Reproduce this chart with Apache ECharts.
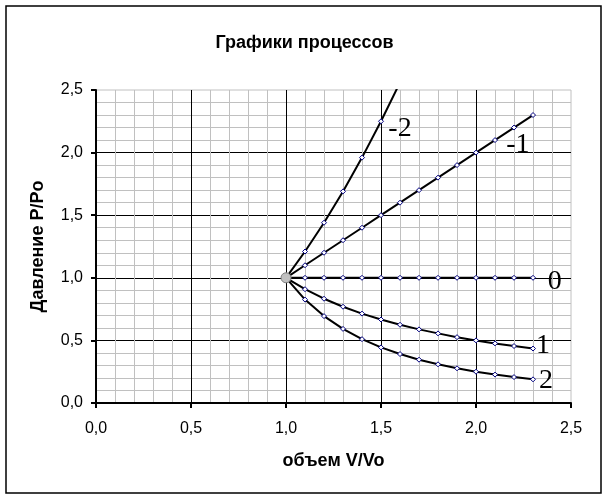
<!DOCTYPE html>
<html>
<head>
<meta charset="utf-8">
<script src="https://cdn.jsdelivr.net/npm/echarts@6/dist/echarts.min.js"></script>
<style>
html,body{margin:0;padding:0;background:#fff;}
#chart{width:609px;height:504px;}
</style>
</head>
<body>
<div id="chart"></div>
<script>
// Data
const volumes = [1.0, 1.1, 1.2, 1.3, 1.4, 1.5, 1.6, 1.7, 1.8, 1.9, 2.0, 2.1, 2.2, 2.3];
const pressureNm2 = [1.00, 1.21, 1.44, 1.69, 1.96, 2.25, 2.56, 2.89, 3.24, 3.61, 4.00, 4.41, 4.84, 5.29];
const pressureNm1 = [1.00, 1.10, 1.20, 1.30, 1.40, 1.50, 1.60, 1.70, 1.80, 1.90, 2.00, 2.10, 2.20, 2.30];
const pressureN0  = [1.00, 1.00, 1.00, 1.00, 1.00, 1.00, 1.00, 1.00, 1.00, 1.00, 1.00, 1.00, 1.00, 1.00];
const pressureN1  = [1.00, 0.909, 0.833, 0.769, 0.714, 0.667, 0.625, 0.588, 0.556, 0.526, 0.500, 0.476, 0.455, 0.435];
const pressureN2  = [1.00, 0.826, 0.694, 0.592, 0.510, 0.444, 0.391, 0.346, 0.309, 0.277, 0.250, 0.227, 0.207, 0.189];
const startPoint = [[1.0, 1.0]];
const curveNames = ['-2', '-1', '0', '1', '2'];
const curveValues = [pressureNm2, pressureNm1, pressureN0, pressureN1, pressureN2];
// label anchor positions (data units) for curve names
const labelAnchors = [[1.60, 2.19], [2.22, 2.06], [2.415, 0.967], [2.353, 0.455], [2.368, 0.176]];

const titleText = 'Графики процессов';
const xName = 'объем V/Vo';
const yName = 'Давление P/Po';

const fmt = v => v.toFixed(1).replace('.', ',');

const chart = echarts.init(document.getElementById('chart'), null, {renderer: 'canvas'});

const series = curveValues.map((vals, i) => ({
  type: 'line',
  name: curveNames[i],
  data: volumes.map((v, k) => [v, vals[k]]),
  clip: true,
  symbol: 'diamond',
  symbolSize: 5,
  showSymbol: true,
  showAllSymbol: true,
  lineStyle: {color: '#000', width: 2},
  itemStyle: {color: '#ffffff', borderColor: '#000080', borderWidth: 1},
  emphasis: {disabled: true},
  z: 3
}));
series.push({
  type: 'scatter',
  data: startPoint,
  symbol: 'circle',
  symbolSize: 10,
  itemStyle: {color: '#c0c0c0', borderColor: '#808080', borderWidth: 1, opacity: 1},
  z: 5
});

const axisCommon = {
  min: 0, max: 2.5, interval: 0.5,
  axisLine: {show: true, onZero: false, lineStyle: {color: '#000', width: 2}},
  axisTick: {show: true, inside: false, length: 5, lineStyle: {color: '#000', width: 2}},
  splitLine: {show: true, showMinLine: false, showMaxLine: false, lineStyle: {color: '#000', width: 1}},
  minorTick: {show: false, splitNumber: 5},
  minorSplitLine: {show: true, lineStyle: {color: '#c0c0c0', width: 1}},
  axisLabel: {formatter: fmt, color: '#000', fontFamily: 'Liberation Sans', fontSize: 16},
  nameLocation: 'middle',
  nameTextStyle: {color: '#000', fontFamily: 'Liberation Sans', fontSize: 18, fontWeight: 'bold'}
};

chart.setOption({
  animation: false,
  backgroundColor: '#fff',
  title: {
    text: titleText, left: 'center', top: 29,
    textStyle: {color: '#000', fontFamily: 'Liberation Sans', fontSize: 18, fontWeight: 'bold'}
  },
  grid: {left: 96, right: 38, top: 90, bottom: 101, show: true, borderColor: '#c0c0c0', borderWidth: 1, backgroundColor: 'transparent'},
  xAxis: Object.assign({}, axisCommon, {type: 'value', name: xName, nameGap: 49, axisLabel: Object.assign({}, axisCommon.axisLabel, {margin: 18})}),
  yAxis: Object.assign({}, axisCommon, {type: 'value', name: yName, nameGap: 49, axisLabel: Object.assign({}, axisCommon.axisLabel, {margin: 13})}),
  series: series
});

const graphics = [{
  type: 'rect', shape: {x: 6, y: 6, width: 595, height: 487},
  style: {fill: null, stroke: '#000', lineWidth: 1.5}, silent: true, z: 100
}];
labelAnchors.forEach((a, i) => {
  const p = chart.convertToPixel('grid', a);
  graphics.push({
    type: 'text', x: p[0], y: p[1], z: 100,
    style: {text: curveNames[i], fill: '#000', font: '28px "Liberation Serif"', align: 'center', verticalAlign: 'middle'}
  });
});
chart.setOption({graphic: graphics});
</script>
</body>
</html>
